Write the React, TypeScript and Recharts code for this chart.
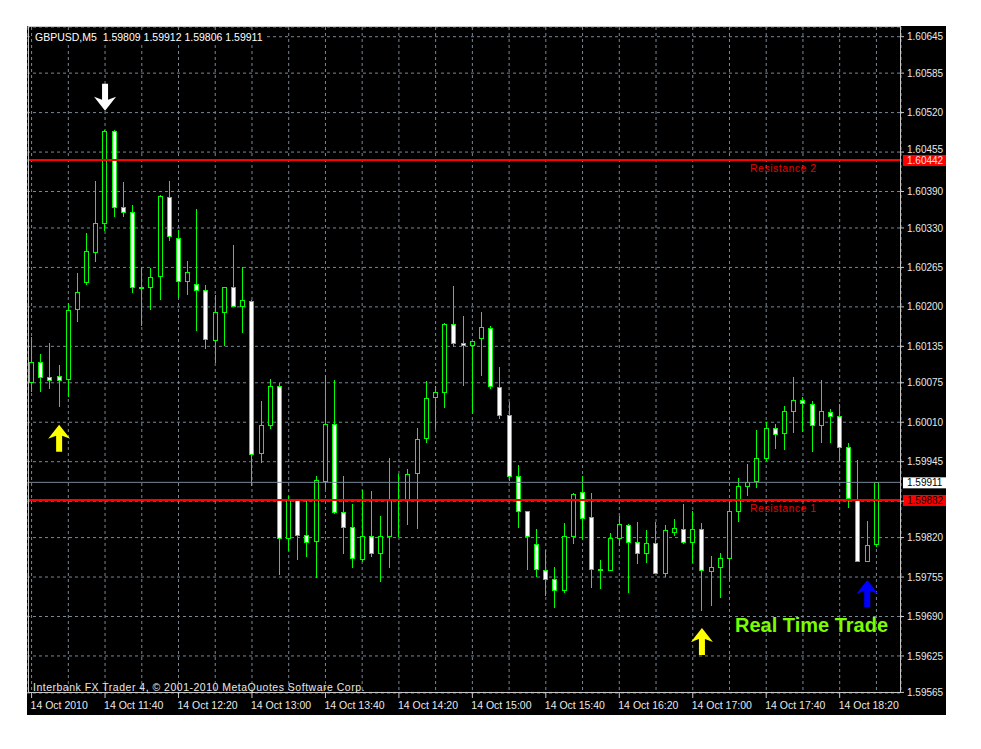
import React from 'react'
import {
  ComposedChart,
  Bar,
  XAxis,
  YAxis,
  CartesianGrid,
  ReferenceLine,
  ReferenceDot,
} from 'recharts'

// GBPUSD M5, 14 Oct 2010, 11:00 .. 18:40 (one entry per 5-minute bar)
const opens = [
  1.60077, 1.6011, 1.60085, 1.60086, 1.60082, 1.60196, 1.60241, 1.6029, 1.60338, 1.60489,
  1.60365, 1.60356, 1.60233, 1.60232, 1.60251, 1.60381, 1.60314, 1.60242, 1.60237, 1.60228,
  1.60146, 1.60192, 1.60232, 1.60202, 1.60209, 1.5996, 1.60005, 1.60069, 1.59819, 1.59882,
  1.59825, 1.59814, 1.59914, 1.60007, 1.59862, 1.59838, 1.59785, 1.59823, 1.59794, 1.59822,
  1.59882, 1.59884, 1.59926, 1.59984, 1.60051, 1.6006, 1.60171, 1.6014, 1.60137, 1.60148,
  1.60166, 1.60068, 1.60022, 1.59921, 1.59863, 1.5981, 1.59767, 1.59752, 1.59733, 1.59823,
  1.59895, 1.59854, 1.59769, 1.59767, 1.5982, 1.59841, 1.59812, 1.59795, 1.59811, 1.59762,
  1.5983, 1.59834, 1.59812, 1.59834, 1.59765, 1.59771, 1.59786, 1.59863, 1.59905, 1.59913,
  1.59951, 1.6, 1.59992, 1.60028, 1.60046, 1.6004, 1.60005, 1.60027, 1.6002, 1.59969,
  1.59882, 1.59782, 1.59809,
]
const highs = [
  1.60151, 1.60122, 1.60141, 1.60104, 1.60206, 1.60256, 1.60321, 1.60408, 1.60492, 1.60491,
  1.60405, 1.60368, 1.60265, 1.60264, 1.60384, 1.60408, 1.60327, 1.60276, 1.60361, 1.60236,
  1.6022, 1.60233, 1.60302, 1.60265, 1.60211, 1.60045, 1.60081, 1.60074, 1.59888, 1.59884,
  1.59882, 1.59921, 1.60087, 1.6008, 1.59921, 1.59876, 1.59898, 1.59897, 1.59856, 1.59951,
  1.59925, 1.59933, 1.6, 1.60078, 1.60069, 1.60173, 1.60235, 1.60185, 1.60144, 1.60191,
  1.60168, 1.60101, 1.60044, 1.5994, 1.59864, 1.59834, 1.598, 1.59771, 1.59844, 1.59893,
  1.59922, 1.59893, 1.59783, 1.59828, 1.59856, 1.59842, 1.59845, 1.59832, 1.59845, 1.59841,
  1.5985, 1.59876, 1.59863, 1.59844, 1.5979, 1.59794, 1.59879, 1.59918, 1.59941, 1.59997,
  1.60011, 1.60007, 1.60036, 1.60084, 1.60051, 1.60045, 1.6008, 1.60032, 1.6004, 1.59976,
  1.59948, 1.59847, 1.59912,
]
const lows = [
  1.60062, 1.60062, 1.60067, 1.60037, 1.60053, 1.60176, 1.60238, 1.60275, 1.60327, 1.60349,
  1.60349, 1.60224, 1.6017, 1.60197, 1.60213, 1.6031, 1.60217, 1.60221, 1.60162, 1.60132,
  1.6011, 1.60137, 1.60201, 1.60158, 1.59907, 1.59945, 1.60001, 1.5976, 1.598, 1.59785,
  1.5979, 1.59755, 1.59902, 1.59861, 1.59795, 1.59771, 1.59782, 1.59789, 1.59749, 1.59771,
  1.59823, 1.59843, 1.59836, 1.59977, 1.6, 1.60035, 1.60135, 1.60072, 1.60026, 1.60088,
  1.60067, 1.60017, 1.59915, 1.59837, 1.59768, 1.59756, 1.59726, 1.59706, 1.59731, 1.59811,
  1.59817, 1.59739, 1.59737, 1.59766, 1.59808, 1.5973, 1.59778, 1.59779, 1.59761, 1.59756,
  1.59825, 1.59811, 1.59779, 1.597, 1.59709, 1.59722, 1.5975, 1.59848, 1.5989, 1.59904,
  1.59948, 1.59967, 1.59966, 1.59994, 1.59996, 1.59963, 1.59978, 1.59977, 1.59948, 1.59871,
  1.59781, 1.59781, 1.59806,
]
const closes = [
  1.6011, 1.60085, 1.6008, 1.6008, 1.60195, 1.60224, 1.60292, 1.60338, 1.60489, 1.60364,
  1.60357, 1.60232, 1.60231, 1.6025, 1.60383, 1.60316, 1.60242, 1.60258, 1.60228, 1.60147,
  1.60192, 1.60232, 1.60202, 1.60211, 1.59958, 1.60006, 1.60069, 1.59819, 1.59882, 1.59825,
  1.59813, 1.59915, 1.60007, 1.59862, 1.59838, 1.59786, 1.59823, 1.59794, 1.59822, 1.59882,
  1.59883, 1.59925, 1.59983, 1.6005, 1.60059, 1.60171, 1.6014, 1.60137, 1.60143, 1.60167,
  1.6007, 1.60022, 1.59921, 1.59864, 1.59823, 1.59769, 1.59752, 1.59733, 1.59823, 1.59892,
  1.59852, 1.59769, 1.59767, 1.5982, 1.59843, 1.59812, 1.59795, 1.59811, 1.59762, 1.59832,
  1.59835, 1.59812, 1.59834, 1.59766, 1.59771, 1.59786, 1.59863, 1.59905, 1.59912, 1.59951,
  1.6, 1.59991, 1.60028, 1.60046, 1.60041, 1.60006, 1.60028, 1.60021, 1.5997, 1.59886,
  1.59782, 1.59807, 1.59911,
]

const gridBars = [0, 4, 8, 12, 16, 20, 24, 28, 32, 36, 40, 44, 48, 52, 56, 60, 64, 68, 72, 76, 80, 84, 88, 92]
const labelBars = [0, 8, 16, 24, 32, 40, 48, 56, 64, 72, 80, 88]
const timeLabels = [
  '14 Oct 2010', '14 Oct 11:40', '14 Oct 12:20', '14 Oct 13:00', '14 Oct 13:40', '14 Oct 14:20',
  '14 Oct 15:00', '14 Oct 15:40', '14 Oct 16:20', '14 Oct 17:00', '14 Oct 17:40', '14 Oct 18:20',
]
const priceTicks = [
  1.59565, 1.59625, 1.5969, 1.59755, 1.5982, 1.5988, 1.59945, 1.6001, 1.60075, 1.60135,
  1.602, 1.60265, 1.6033, 1.6039, 1.60455, 1.6052, 1.60585, 1.60645,
]

const resistanceLevels = [1.60442, 1.59882]
const resistanceNames = ['Resistance 2', 'Resistance 1']
const bidPrice = 1.59911

const arrowBars = [8, 3, 73, 91]
const arrowPrices = [1.60523, 1.60006, 1.59671, 1.5975]
const arrowUp = [false, true, true, true]
const arrowColors = ['#ffffff', '#ffff00', '#ffff00', '#0000ff']

const FONT = '"Liberation Sans", Arial, sans-serif'
const GREEN = '#00ff00'
const GRID = '#778899'
const FRAME = '#c8c8c8'

const data = opens.map((o, i) => ({ t: i, o, h: highs[i], l: lows[i], c: closes[i] }))
const last = data[data.length - 1]
const taggedPrices = [bidPrice, ...resistanceLevels]

// price labels hidden under a tag are dropped, ones just above a tag are lifted clear of it
function PriceTick(props: any) {
  const { x, y, payload } = props
  const v = payload.value as number
  if (taggedPrices.some((p) => Math.abs(p - v) < 0.00008)) return null
  const lift = taggedPrices.some((p) => v > p && v - p < 0.0002) ? 3 : 0
  return (
    <text x={x} y={y - lift} dy="0.355em" fill="#e8e8e8" fontSize={10} fontFamily={FONT}>
      {v.toFixed(5)}
    </text>
  )
}

function Candle(props: any) {
  const { x, y, width, height, payload } = props
  if (!payload) return null
  const { o, h, l, c } = payload
  const top = Math.min(y, y + height)
  const span = Math.abs(height)
  const toY = (v: number) => top + ((h - v) / (h - l)) * span
  const cx = Math.floor(x + width / 2) + 0.5
  const yo = toY(o)
  const yc = toY(c)
  const bTop = Math.round(Math.min(yo, yc)) + 0.5
  const bBot = Math.round(Math.max(yo, yc)) + 0.5
  const bull = c >= o
  return (
    <g>
      <line x1={cx} x2={cx} y1={Math.round(top)} y2={Math.round(top + span) + 1} stroke={GREEN} />
      {bBot - bTop < 1 ? (
        <line x1={cx - 2.5} x2={cx + 2.5} y1={bTop} y2={bTop} stroke={GREEN} />
      ) : (
        <rect
          x={cx - 2}
          y={bTop}
          width={4}
          height={bBot - bTop}
          fill={bull ? '#000' : '#fff'}
          stroke={GREEN}
        />
      )}
    </g>
  )
}

function TimeTick(props: any) {
  const { x, y, payload } = props
  const k = labelBars.indexOf(payload.value)
  if (k < 0) return null
  return (
    <g>
      <line x1={x} x2={x} y1={y} y2={y + 5} stroke={FRAME} />
      <text x={x - 1} y={y + 16} fill="#e8e8e8" fontSize={10.5} fontFamily={FONT}>
        {timeLabels[k]}
      </text>
    </g>
  )
}

function LineTag(props: any) {
  const { viewBox, price, name, bg, fg } = props
  if (!viewBox) return null
  const right = viewBox.x + viewBox.width
  const y = viewBox.y
  return (
    <g>
      <rect x={right + 2} y={y - 5} width={43} height={11} fill={bg} />
      <text x={right + 6} y={y + 4} fill={fg} fontSize={10} fontFamily={FONT}>
        {price.toFixed(5)}
      </text>
      {name && (
        <text
          x={right - 151}
          y={y + 12}
          fill="#e80000"
          fontSize={10.5}
          letterSpacing={0.5}
          fontFamily={FONT}
        >
          {name}
        </text>
      )}
    </g>
  )
}

function Arrow(props: any) {
  const { cx, cy, up, color } = props
  if (cx == null || cy == null) return null
  const s = up ? 1 : -1
  const pts = [
    [0, 0], [11, 14], [3, 11], [3, 27], [-3, 27], [-3, 11], [-11, 14],
  ]
    .map(([dx, dy]) => `${cx + dx},${cy + s * dy}`)
    .join(' ')
  return <polygon points={pts} fill={color} />
}

export default function App() {
  const header = `GBPUSD,M5  ${last.o.toFixed(5)} ${last.h.toFixed(5)} ${last.l.toFixed(5)} ${last.c.toFixed(5)}`
  return (
    <div style={{ position: 'absolute', left: 0, top: 0, width: 981, height: 749, background: '#fff' }}>
      <div style={{ position: 'absolute', left: 27, top: 26, width: 919, height: 689, background: '#000' }}>
        <ComposedChart
          width={919}
          height={689}
          data={data}
          margin={{ top: 1, right: 0, bottom: 0, left: 0 }}
        >
          <CartesianGrid stroke={GRID} strokeDasharray="3 3" />
          <XAxis
            dataKey="t"
            type="category"
            ticks={gridBars}
            interval={0}
            padding={{ left: 0, right: 20 }}
            height={22}
            tickSize={0}
            tickMargin={0}
            axisLine={false}
            tickLine={false}
            tick={<TimeTick />}
          />
          <YAxis
            orientation="right"
            type="number"
            width={45}
            domain={[1.59564, 1.60661]}
            allowDataOverflow
            ticks={priceTicks}
            interval={0}
            tickSize={3}
            tickMargin={3}
            axisLine={false}
            tickLine={{ stroke: FRAME }}
            tick={<PriceTick />}
          />
          <Bar
            dataKey={(d: any) => [d.l, d.h]}
            barSize={7}
            isAnimationActive={false}
            shape={(p: any) => <Candle {...p} />}
          />
          <ReferenceLine
            y={bidPrice}
            stroke={GRID}
            strokeWidth={1}
            label={<LineTag price={bidPrice} bg="#ffffff" fg="#000000" />}
          />
          {resistanceLevels.map((lvl, i) => (
            <ReferenceLine
              key={lvl}
              y={lvl}
              stroke="#ff0000"
              strokeWidth={2}
              label={<LineTag price={lvl} name={resistanceNames[i]} bg="#ff0000" fg={i === 0 ? '#ffe0e0' : '#000000'} />}
            />
          ))}
          {arrowBars.map((b, i) => (
            <ReferenceDot
              key={b}
              x={b}
              y={arrowPrices[i]}
              r={0}
              shape={(p: any) => <Arrow {...p} up={arrowUp[i]} color={arrowColors[i]} />}
            />
          ))}
        </ComposedChart>
      </div>
      <svg
        width={981}
        height={749}
        style={{ position: 'absolute', left: 0, top: 0, pointerEvents: 'none' }}
      >
        <rect x={28.5} y={26.5} width={872} height={666} fill="none" stroke={FRAME} />
        <rect x={33} y={30} width={234} height={13} fill="#000" />
        <text x={35} y={41} fill="#ffffff" fontSize={10.5} fontFamily={FONT} style={{ whiteSpace: 'pre' }}>
          {header}
        </text>
        <text x={33} y={691} fill="#e8e8e8" fontSize={10.5} letterSpacing={0.5} fontFamily={FONT}>
          Interbank FX Trader 4, © 2001-2010 MetaQuotes Software Corp.
        </text>
        <text x={735} y={632} fill="#7cfc00" fontSize={20} fontWeight="bold" fontFamily={FONT}>
          Real Time Trade
        </text>
      </svg>
    </div>
  )
}
